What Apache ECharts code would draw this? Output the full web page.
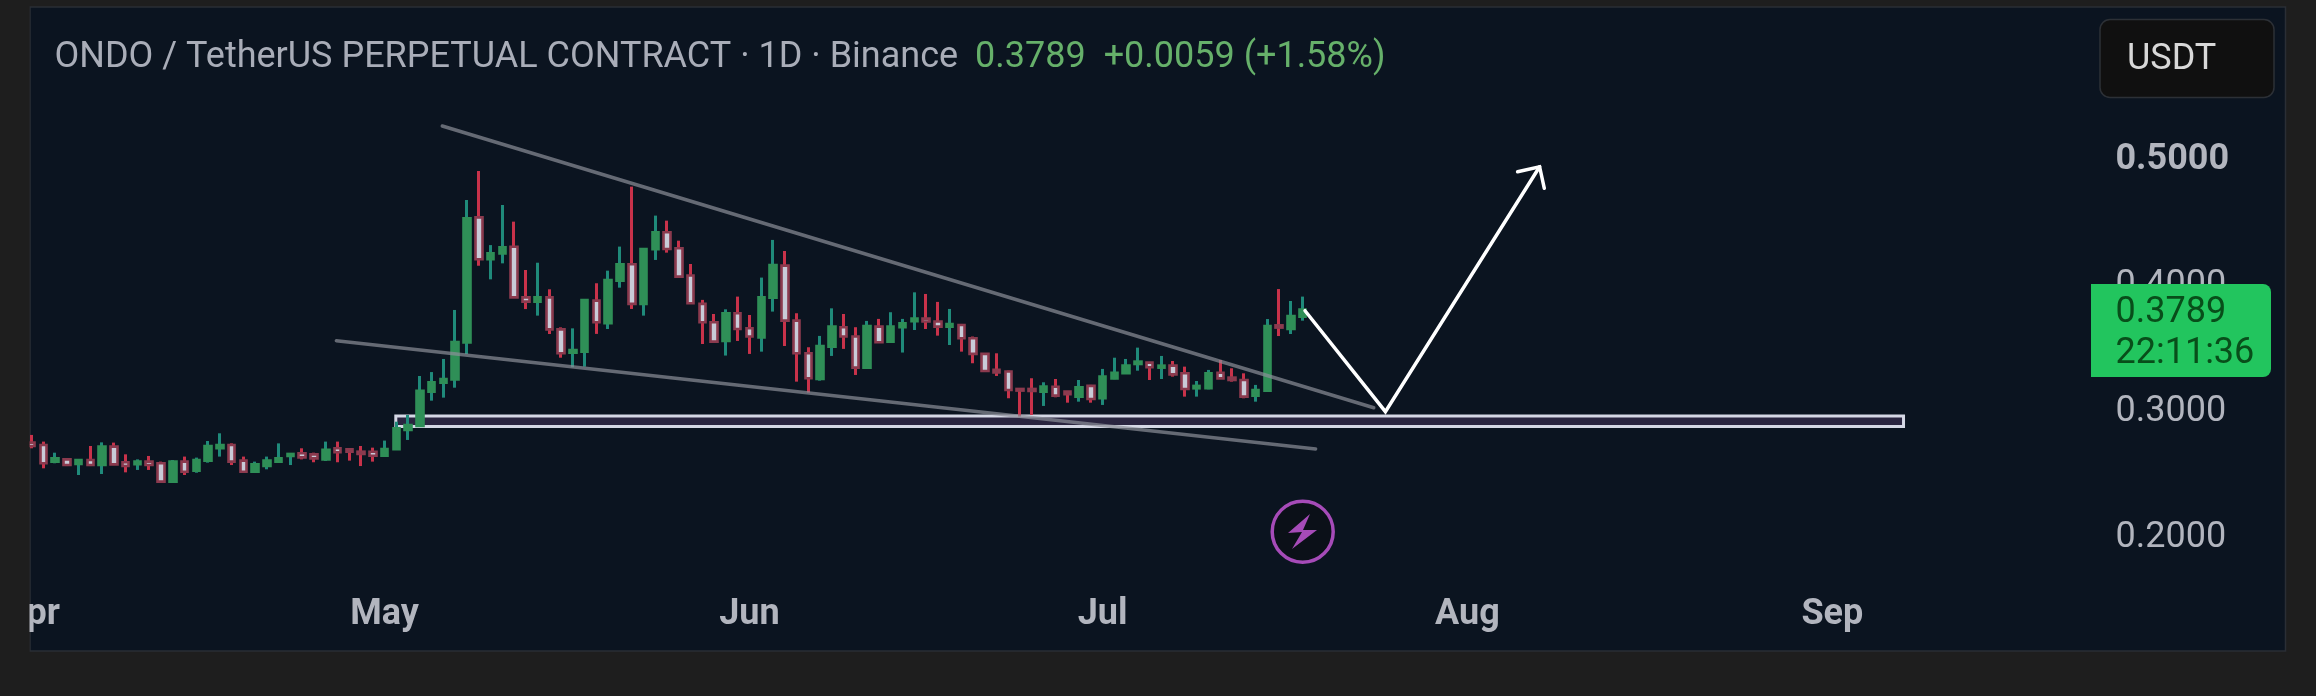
<!DOCTYPE html>
<html>
<head>
<meta charset="utf-8">
<style>html,body{margin:0;padding:0;background:#1e1e1e;}#c{width:2316px;height:696px;}</style>
<script src="https://cdn.jsdelivr.net/npm/echarts@6/dist/echarts.min.js"></script>
</head>
<body>
<div id="c"></div>
<script>
const opens  = [.2733,.2714,.2582,.2600,.2563,.2595,.2555,.2701,.2577,.2561,.2582,.2569,.2423,.2582,.2510,.2590,.2688,.2714,.2590,.2502,.2547,.2582,.2627,.2648,.2640,.2600,.2688,.2680,.2661,.2661,.2629,.2680,.2833,.2865,.3137,.3209,.3235,.3529,.4521,.4188,.4235,.4288,.3886,.3852,.3886,.3632,.3447,.3455,.3860,.3680,.4019,.4149,.3834,.4268,.4403,.4276,.4059,.3834,.3688,.3540,.3760,.3641,.3567,.3884,.4138,.3701,.3442,.3239,.3495,.3649,.3575,.3328,.3654,.3535,.3649,.3696,.3717,.3694,.3654,.3667,.3561,.3437,.3310,.3297,.3159,.3159,.3138,.3177,.3138,.3098,.3183,.3085,.3243,.3283,.3357,.3368,.3328,.3344,.3283,.3164,.3164,.3288,.3249,.3230,.3106,.3146,.3664,.3635,.3733];
const closes = [.2706,.2569,.2608,.2555,.2595,.2555,.2701,.2560,.2547,.2582,.2555,.2423,.2582,.2502,.2595,.2706,.2714,.2582,.2502,.2561,.2590,.2608,.2643,.2616,.2608,.2675,.2656,.2661,.2643,.2629,.2682,.2847,.2873,.3145,.3212,.3238,.3532,.4513,.4188,.4235,.4283,.3886,.3852,.3886,.3632,.3442,.3468,.3865,.3688,.4024,.4149,.3834,.4270,.4403,.4270,.4051,.3839,.3688,.3535,.3760,.3635,.3575,.3887,.4143,.3701,.3442,.3244,.3500,.3654,.3575,.3328,.3659,.3530,.3654,.3680,.3717,.3694,.3654,.3675,.3561,.3437,.3302,.3289,.3151,.3146,.3143,.3178,.3106,.3117,.3172,.3079,.3257,.3288,.3344,.3376,.3331,.3344,.3275,.3159,.3183,.3283,.3243,.3230,.3098,.3151,.3659,.3646,.3738,.3789];
const lows   = [.2688,.2529,.2569,.2547,.2476,.2547,.2484,.2555,.2497,.2516,.2516,.2418,.2418,.2476,.2494,.2574,.2622,.2555,.2502,.2502,.2521,.2582,.2555,.2600,.2577,.2587,.2577,.2590,.2547,.2582,.2629,.2680,.2754,.2860,.3066,.3090,.3169,.3436,.4137,.4029,.4156,.3883,.3793,.3741,.3595,.3407,.3331,.3336,.3596,.3635,.3963,.3794,.3741,.4183,.4241,.4051,.3839,.3516,.3535,.3424,.3540,.3437,.3455,.3773,.3500,.3217,.3130,.3225,.3421,.3477,.3270,.3328,.3527,.3535,.3448,.3627,.3635,.3582,.3508,.3455,.3363,.3297,.3262,.3085,.2940,.2953,.3024,.3093,.3050,.3058,.3050,.3032,.3236,.3283,.3304,.3230,.3238,.3257,.3098,.3098,.3156,.3243,.3217,.3085,.3058,.3146,.3579,.3595,.3701];
const highs  = [.2794,.2741,.2653,.2608,.2598,.2706,.2735,.2733,.2640,.2600,.2627,.2582,.2595,.2622,.2614,.2746,.2807,.2727,.2622,.2582,.2622,.2727,.2648,.2688,.2653,.2741,.2741,.2688,.2706,.2693,.2749,.2899,.2952,.3262,.3293,.3397,.3786,.4659,.4889,.4301,.4619,.4487,.4103,.4161,.3950,.3648,.3640,.3870,.3998,.4098,.4289,.4765,.4276,.4535,.4495,.4336,.4151,.3866,.3754,.3791,.3892,.3746,.4043,.4342,.4254,.3760,.3490,.3580,.3799,.3754,.3649,.3699,.3715,.3768,.3715,.3926,.3913,.3850,.3794,.3675,.3575,.3442,.3442,.3305,.3164,.3244,.3212,.3238,.3143,.3230,.3191,.3318,.3407,.3397,.3487,.3370,.3421,.3381,.3336,.3222,.3310,.3389,.3323,.3283,.3191,.3714,.3952,.3857,.3892];

const monthNames = ['Apr','May','Jun','Jul','Aug','Sep'];
const monthStartIndex = [0,30,61,91,122,153];
const priceTicks = [0.2,0.3,0.4,0.5];
const boldTick = 0.5;
const categoryCount = 192;

const upperTrendX = [34.9,114.04],  upperTrendY = [.5246,.3010];
const lowerTrendX = [25.9,109.1],   lowerTrendY = [.3542,.2683];
const arrowX = [108.2,115.03,128.13], arrowY = [.3780,.2979,.4923];
const arrowHeadX = [126.26,128.13,128.53], arrowHeadY = [.4883,.4923,.4752];
const zoneX = [30.95,159.05], zoneY = [.2944,.2861];

const titleMain = 'ONDO / TetherUS PERPETUAL CONTRACT · 1D · Binance';
const titleQuote = '0.3789  +0.0059 (+1.58%)';
const lastPrice = '0.3789', countdown = '22:11:36', unit = 'USDT';

const categories = [];
for (let i = 0; i < categoryCount; i++) {
  const d = new Date(Date.UTC(2024, 3, 1 + i));
  categories.push(d.toISOString().slice(0, 10));
}
const full = opens.map((o,i)=>[o,closes[i],lows[i],highs[i]]);
const bodies = opens.map((o,i)=>[o,closes[i],Math.min(o,closes[i]),Math.max(o,closes[i])]);
const zip = (a,b)=>a.map((v,i)=>[v,b[i]]);

const textGray = '#b2b5be';
const font = 'Roboto';
const gridLeft = 23.7, bw = 11.78;
const lineSeries = (xs,ys,color,width,z)=>({
  type:'line', xAxisIndex:1, yAxisIndex:0, data:zip(xs,ys), showSymbol:false, symbol:'none', silent:true,
  animation:false, z, lineStyle:{color,width,cap:'round',join:'miter'}
});

const chart = echarts.init(document.getElementById('c'), null, {renderer:'canvas', width:2316, height:696});
chart.setOption({
  animation:false,
  backgroundColor:'#1e1e1e',
  title:{
    left:49.5, top:35, z:20,
    text:'{a|'+titleMain+'}  {b|'+titleQuote+'}',
    textStyle:{rich:{
      a:{fontFamily:font,fontSize:36,color:'#a9adb8',fontWeight:400},
      b:{fontFamily:font,fontSize:36,color:'#66b06a',fontWeight:400,padding:[0,0,0,7]}
    }}
  },
  grid:{left:gridLeft, top:8, width:categoryCount*bw, height:582, containLabel:false},
  xAxis:[{
    type:'category', data:categories, boundaryGap:true,
    axisLine:{show:false}, axisTick:{show:false}, splitLine:{show:false},
    axisLabel:{
      margin:7, fontFamily:font, fontSize:36, fontWeight:700, color:textGray,
      hideOverlap:false,
      interval:(i)=>monthStartIndex.includes(i),
      formatter:(v,i)=>monthNames[monthStartIndex.indexOf(i)] || ''
    }
  },{
    type:'value', min:-0.5, max:categoryCount-0.5, show:false
  }],
  yAxis:[{
    type:'value', position:'right', min:.1563, max:.6183, scale:true,
    axisLine:{show:false}, axisTick:{show:false}, splitLine:{show:false},
    axisLabel:{
      inside:true, align:'left', margin:170, fontFamily:font, fontSize:36, color:textGray,
      customValues:priceTicks,
      formatter:(v)=>{const s=v.toFixed(4);return Math.abs(v-boldTick)<1e-6?'{b|'+s+'}':'{n|'+s+'}';},
      rich:{
        b:{fontFamily:font,fontSize:36,fontWeight:700,color:textGray,padding:[6,0,0,0]},
        n:{fontFamily:font,fontSize:36,fontWeight:400,color:textGray,padding:[6,0,0,0]}
      }
    }
  }],
  series:[
    Object.assign(lineSeries(zoneX,zoneY,'rgba(0,0,0,0)',0,1),{
      markArea:{silent:true,z:1,
        itemStyle:{color:'#2a2540',borderColor:'#d5d8e5',borderWidth:3},
        data:[[{coord:[zoneX[0],zoneY[0]]},{coord:[zoneX[1],zoneY[1]]}]]}
    }),
    {type:'candlestick', name:'wicks', data:full, xAxisIndex:0, yAxisIndex:0, z:3, barWidth:1, silent:true,
      itemStyle:{color:'#1f8a7a',color0:'#c8324a',borderColor:'#1f8a7a',borderColor0:'#c8324a',borderWidth:3}},
    {type:'candlestick', name:'bodies', data:bodies, xAxisIndex:0, yAxisIndex:0, z:4, barWidth:7, silent:true,
      itemStyle:{color:'#2f8f57',color0:'#c9cbd8',borderColor:'#2f8f57',borderColor0:'#8b3a4e',borderWidth:2.6}},
    lineSeries(upperTrendX,upperTrendY,'rgba(140,143,153,0.7)',3.5,5),
    lineSeries(lowerTrendX,lowerTrendY,'rgba(140,143,153,0.7)',3.5,5),
    lineSeries(arrowX,arrowY,'#ffffff',3.5,6),
    lineSeries(arrowHeadX,arrowHeadY,'#ffffff',3.5,6)
  ],
  graphic:{elements:[
    {type:'rect',z:-10,zlevel:0,silent:true,shape:{x:30,y:7,width:2255.5,height:644},style:{fill:'#0b1420',stroke:'#2a2e35',lineWidth:1.5}},
    {type:'rect',z:100,silent:true,shape:{x:0,y:0,width:29.5,height:696},style:{fill:'#1e1e1e'}},
    {type:'rect',z:101,silent:true,shape:{x:2100,y:19.5,width:174,height:78,r:10},style:{fill:'#101010',stroke:'#2c3036',lineWidth:1.5}},
    {type:'text',z:102,silent:true,x:2127,y:60,style:{text:unit,fontFamily:font,fontSize:36,fill:'#d8d8d8',verticalAlign:'middle'}},
    {type:'rect',z:103,silent:true,shape:{x:2091,y:284,width:180,height:93,r:[0,8,8,0]},style:{fill:'#22c55e'}},
    {type:'text',z:104,silent:true,x:2115.5,y:313,style:{text:lastPrice,fontFamily:font,fontSize:36,fill:'#084e1a',verticalAlign:'middle'}},
    {type:'text',z:104,silent:true,x:2115.5,y:354,style:{text:countdown,fontFamily:font,fontSize:36,fill:'#084e1a',verticalAlign:'middle'}},
    {type:'circle',z:50,silent:true,shape:{cx:1302.7,cy:531.7,r:30.5},style:{fill:'#0b1018',stroke:'#a64bb8',lineWidth:3.5}},
    {type:'polygon',z:51,silent:true,shape:{points:[[1310,514],[1288,533],[1302,532],[1292,549],[1317,530],[1303,530]]},style:{fill:'#a64bb8'}}
  ]}
});
</script>
</body>
</html>
